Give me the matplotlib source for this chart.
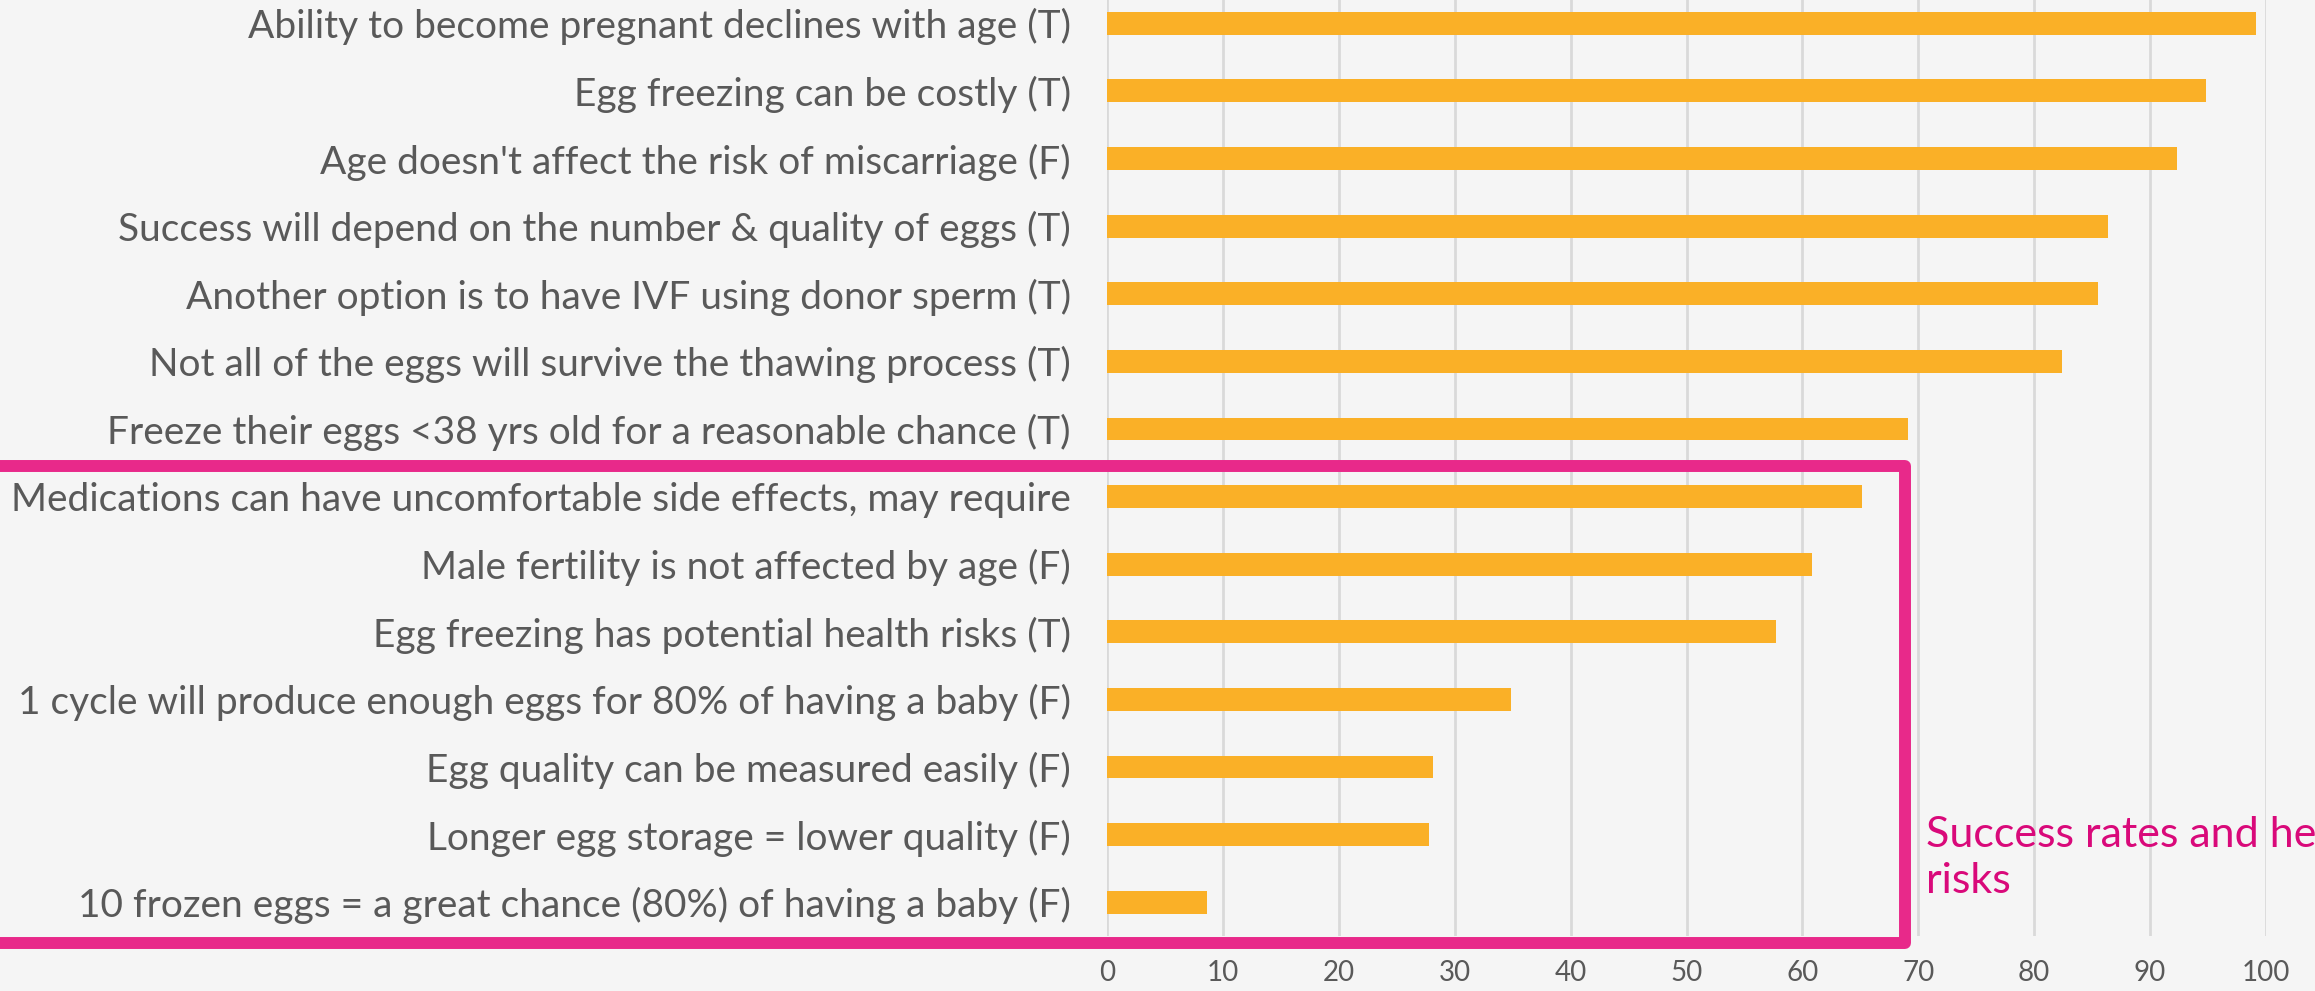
import matplotlib.pyplot as plt
from matplotlib.patches import Rectangle

# statements (top to bottom) and % correct
statements = [
    "Ability to become pregnant declines with age (T)",
    "Egg freezing can be costly (T)",
    "Age doesn't affect the risk of miscarriage (F)",
    "Success will depend on the number & quality of eggs (T)",
    "Another option is to have IVF using donor sperm (T)",
    "Not all of the eggs will survive the thawing process (T)",
    "Freeze their eggs <38 yrs old for a reasonable chance (T)",
    "Medications can have uncomfortable side effects, may require",
    "Male fertility is not affected by age (F)",
    "Egg freezing has potential health risks (T)",
    "1 cycle will produce enough eggs for 80% of having a baby (F)",
    "Egg quality can be measured easily (F)",
    "Longer egg storage = lower quality (F)",
    "10 frozen eggs = a great chance (80%) of having a baby (F)",
]
correct = [99.1, 94.8, 92.3, 86.4, 85.5, 82.4, 69.1, 65.1, 60.8, 57.7, 34.9, 28.1, 27.8, 8.6]
xticks = [0, 10, 20, 30, 40, 50, 60, 70, 80, 90, 100]

bg = '#F5F5F5'
plt.rcParams['font.family'] = ['Lato', 'DejaVu Sans']

fig = plt.figure(figsize=(23.15, 9.91), dpi=100, facecolor=bg)
ax = fig.add_axes([1107 / 2315, 55 / 991, 1159 / 2315, 936 / 991])
ax.set_facecolor(bg)

y = list(range(len(statements)))
ax.barh(y, correct, height=0.34, color='#FAB027', zorder=3)

ax.set_xlim(0, 100)
ax.set_ylim(13.5, -0.346)
ax.set_xticks(xticks)
ax.set_xticklabels([str(t) for t in xticks], fontsize=20, color='#595959')
ax.set_yticks(y)
ax.set_yticklabels(statements, fontsize=28, color='#595959')
ax.tick_params(length=0, axis='y', pad=26)
ax.tick_params(length=0, axis='x', pad=17)
ax.grid(axis='x', color='#D9D9D9', linewidth=2, zorder=0)
for s in ax.spines.values():
    s.set_visible(False)

# highlight box round the lower group
W, H = 2315, 991
box = Rectangle((-30 / W, 48 / H), (1905 + 30) / W, (525 - 48) / H,
                transform=fig.transFigure, fill=False, edgecolor='#E8298A',
                linewidth=8.6, joinstyle='round', clip_on=False, zorder=10)
fig.patches.append(box)

fig.text(1926 / W, 133 / H, "Success rates and health\nrisks", fontsize=31,
         color='#D9097A', ha='left', va='center', linespacing=1.25)

fig.savefig('out.png', dpi=100, facecolor=bg)
